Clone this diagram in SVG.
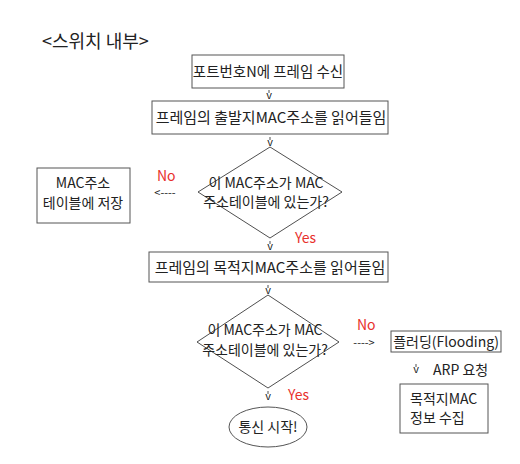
<svg xmlns="http://www.w3.org/2000/svg" width="520" height="464" viewBox="0 0 520 464">
<style>
text{font-family:"Noto Sans CJK KR","Noto Sans",sans-serif;fill:#222;font-size:14px}
.c{text-anchor:middle}
.r{fill:#e8302c}
.b{fill:#fff;stroke:#555;stroke-width:1}
.d{fill:#fff;stroke:#222;stroke-width:0.8}
.a{font-size:11px}
.t{stroke:#222;stroke-width:0.8}
</style>
<rect width="520" height="464" fill="#fff"/>
<text x="42" y="48" style="font-size:18px">&lt;스위치 내부&gt;</text>
<g id="n1"><rect class="b" x="192" y="55" width="152" height="33"/><text class="c" x="268" y="77" style="font-size:14.5px">포트번호N에 프레임 수신</text></g>
<g id="n2"><rect class="b" x="152" y="101" width="236" height="33"/><text class="c" x="271" y="123" style="font-size:15px">프레임의 출발지MAC주소를 읽어들임</text></g>
<g id="n3"><polygon class="d" points="270,147 342,192 270,238 198,192"/><text class="c" x="266" y="188">이 MAC주소가 MAC</text><text class="c" x="266" y="207">주소테이블에 있는가?</text></g>
<g id="n4"><rect class="b" x="37" y="168" width="93" height="55"/><text class="c" x="83" y="188">MAC주소</text><text class="c" x="83" y="208">테이블에 저장</text></g>
<g id="n5"><rect class="b" x="149" y="252" width="239" height="30"/><text class="c" x="270" y="273" style="font-size:15px">프레임의 목적지MAC주소를 읽어들임</text></g>
<g id="n6"><polygon class="d" points="268,295 339,342 268,388 197,342"/><text class="c" x="265" y="335">이 MAC주소가 MAC</text><text class="c" x="265" y="355">주소테이블에 있는가?</text></g>
<g id="n7"><rect class="b" x="391" y="331" width="110" height="21"/><text class="c" x="446" y="347">플러딩(Flooding)</text></g>
<g id="n8"><rect class="b" x="400" y="384" width="88" height="49"/><text x="410" y="404">목적지MAC</text><text x="410" y="423">정보 수집</text></g>
<g id="n9"><ellipse class="b" cx="268" cy="427" rx="39" ry="20"/><text class="c" x="268" y="432">통신 시작!</text></g>
<g id="connectors">
<line class="t" x1="269" y1="90" x2="269" y2="93"/><text class="c a" x="269" y="99">v</text>
<line class="t" x1="270" y1="137" x2="270" y2="140"/><text class="c a" x="270" y="146">v</text>
<text class="c a" x="165" y="197">&lt;----</text>
<text class="r" x="157" y="181">No</text>
<line class="t" x1="270" y1="241" x2="270" y2="244"/><text class="c a" x="270" y="250">v</text>
<text class="r" x="295" y="243">Yes</text>
<line class="t" x1="268" y1="285" x2="268" y2="288"/><text class="c a" x="268" y="294">v</text>
<text class="c a" x="364" y="347">----&gt;</text>
<text class="r" x="357" y="330">No</text>
<line class="t" x1="268" y1="391" x2="268" y2="394"/><text class="c a" x="268" y="400">v</text>
<text class="r" x="288" y="400">Yes</text>
<line class="t" x1="416" y1="364" x2="416" y2="367"/><text class="c a" x="416" y="373">v</text>
<text x="433" y="375">ARP 요청</text>
</g>
</svg>
